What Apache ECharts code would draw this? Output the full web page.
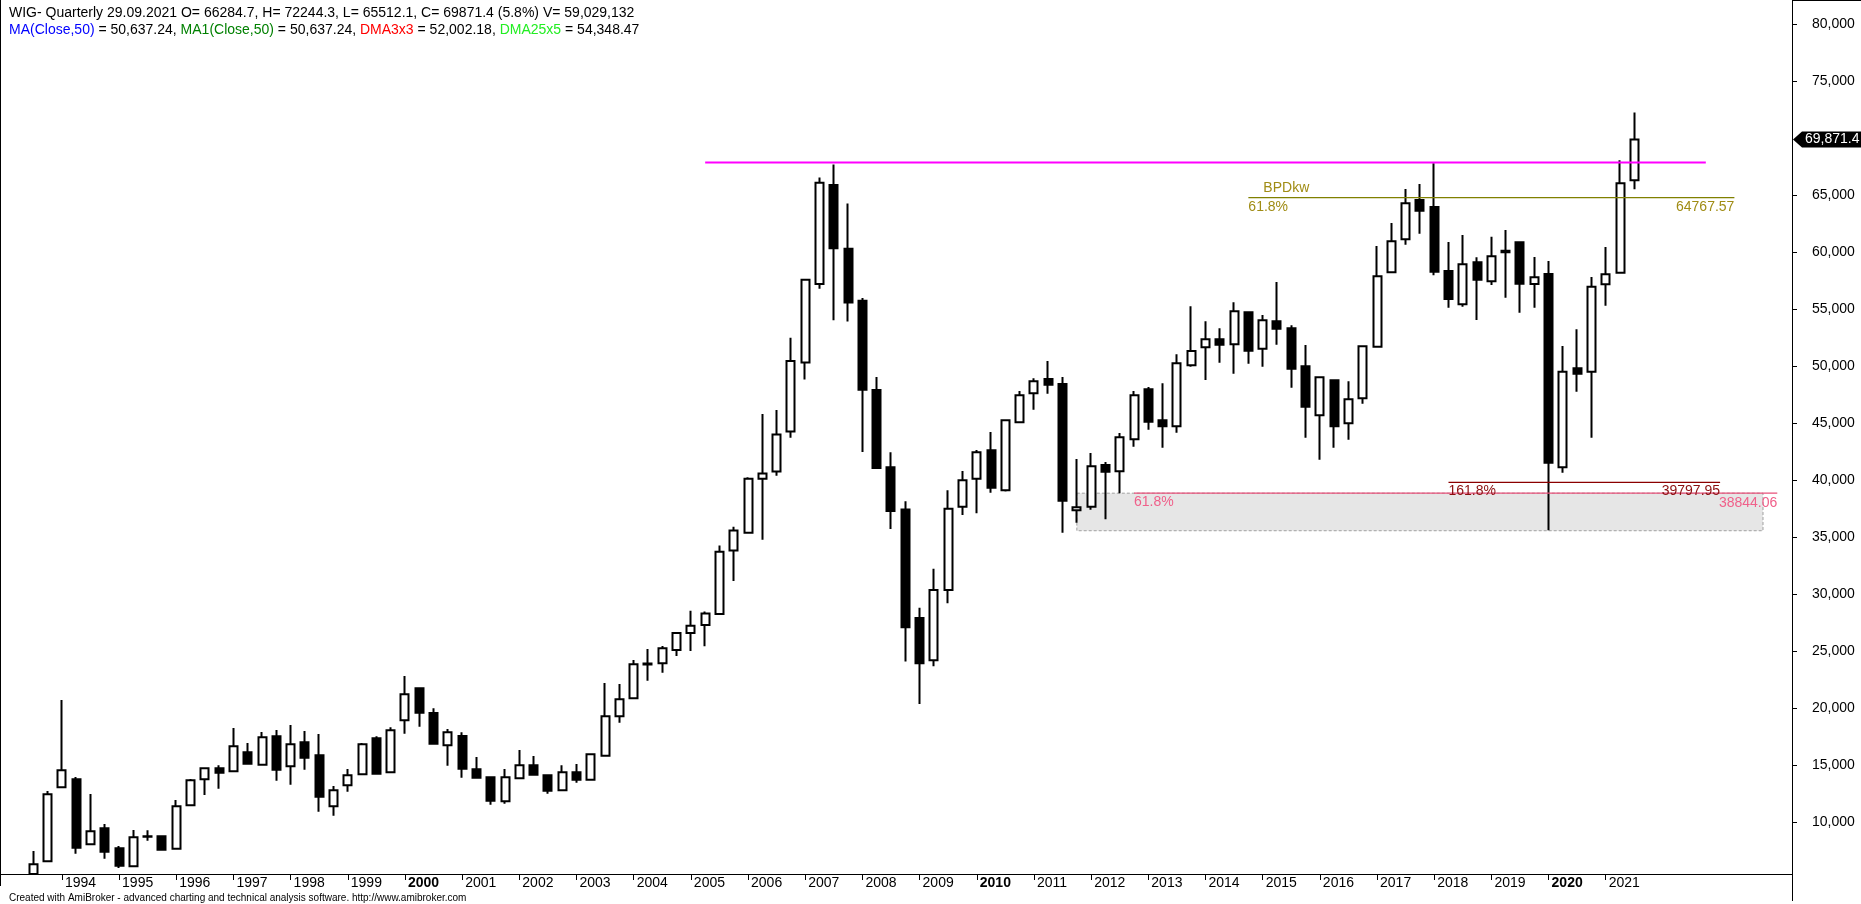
<!DOCTYPE html>
<html>
<head>
<meta charset="utf-8">
<script src="https://cdn.jsdelivr.net/npm/echarts@6/dist/echarts.min.js"></script>
<style>
html,body{margin:0;padding:0;background:#fff;}
#c{width:1861px;height:904px;}
</style>
</head>
<body>
<div id="c"></div>
<script>
// ---------- DATA ----------
// quarterly bars, first bar = 1993Q3, last bar = 2021Q3
const firstBar = '1993Q3';
const open = [5440,6552,13043,13745,8043,9447,7692,6114,8700,8745,
  7657,11464,13745,14710,14447,16113,15026,17517,14886,16991,
  15850,11377,13219,14184,17342,14359,18921,21727,19561,16728,
  17543,14622,13920,11815,13833,14973,14096,12780,14359,13710,
  15815,19271,20850,23900,23921,25091,26587,27270,28246,33809,
  35370,40120,40738,44251,50302,57198,65883,60288,55734,47894,
  41128,37420,27888,24180,30361,37660,40116,42602,39093,45058,
  47602,48859,48421,37339,37660,41315,40760,43567,47953,45233,
  44707,50058,51637,52339,51900,54708,51520,53918,53304,49971,
  45672,48743,44971,47164,51696,58216,61111,64561,63947,58333,
  55409,59093,57426,59970,60848,57193,58070,41111,49795,49502,
  57163,58187,66284.7];
const high = [7456,12719,20701,13947,12456,9824,7894,9298,9270,8760,
  11929,13772,14750,14973,18245,16929,17894,18070,18508,17982,
  17719,13157,14649,16929,17517,18306,22807,21800,19973,18157,
  17868,15701,13950,14649,16315,15789,14150,14973,15087,15950,
  22193,22105,24210,25175,25440,26650,28539,28474,34264,35891,
  40250,45780,46138,52481,57653,66534,67673,64257,55962,49033,
  42429,38135,28799,32215,39111,40789,42631,44210,45300,47806,
  48918,50438,49035,41842,42368,41578,44122,47806,48157,48479,
  51023,55233,53918,53304,55584,54795,54474,57368,53567,51842,
  49050,48800,48655,51813,60526,62544,65526,65965,67778,60877,
  61491,59532,61345,61929,60906,59561,59210,51754,53216,57807,
  60438,68041,72244.3];
const low = [5440,6500,13000,7218,8000,6780,5964,6100,8356,7483,
  7600,11400,12368,12921,14400,15050,14940,13622,13271,14587,
  10903,10552,12658,14100,14200,14271,17745,18359,16780,14938,
  13885,13850,11517,11605,13800,14100,12482,12692,13447,13700,
  15800,18710,20800,22394,23096,24570,24993,25416,28148,31141,
  35300,34752,40380,43698,48805,56775,54010,53912,42462,41000,
  35696,24082,20341,23660,29190,36929,37075,38888,39000,45000,
  46169,47573,35379,36257,37397,36549,38830,42923,44415,42836,
  44151,49941,48771,50292,49327,50205,49941,51871,48099,43713,
  41783,42836,43538,46696,51650,58200,60643,61608,57953,55116,
  55204,54035,57105,55994,54678,55116,35600,40643,47748,43713,
  55292,58100,65512.1];
const close = [6289,12429,14534,7745,9184,7394,6166,8657,8760,7570,
  11377,13657,14710,14325,16640,15114,17429,14587,16815,15640,
  12219,12780,14096,16815,14236,18043,21201,19587,16868,17868,
  14675,13885,11868,13920,14973,14149,12745,14359,13710,15938,
  19271,20763,23833,23820,25236,26587,27205,28279,33711,35566,
  40120,40575,43991,50432,57556,66079,60321,55571,47927,41063,
  37290,27075,23920,30361,37485,39970,42426,39327,45233,47426,
  48654,48362,38187,37602,41198,40730,43742,47426,45116,44707,
  50233,51315,52339,51871,54795,51345,54006,53275,49766,46433,
  49006,44707,47076,51725,57865,60936,64269,63626,58275,55877,
  58918,57573,59619,60117,57222,57777,41520,49502,49327,56959,
  58041,66023,69871.4];

// axis slots (quarters) and tick labels
const firstSlot = [1993, 2];   // one empty slot before the first bar
const slotCount = 124;         // empty slots after the last bar for drawings
const yearTicks = [1994,1995,1996,1997,1998,1999,2000,2001,2002,2003,2004,2005,2006,2007,
  2008,2009,2010,2011,2012,2013,2014,2015,2016,2017,2018,2019,2020,2021];
const boldYears = [2000, 2010, 2020];
const yTickValues = [10000,15000,20000,25000,30000,35000,40000,45000,50000,55000,60000,65000,75000,80000];
const yMin = 5438.6, yMax = 82105.3;

// drawings
const resistLevel = 67850, resistFrom = '2005Q2', resistTo = '2022Q4';
const bpdLevel = 64767.57, bpdFrom = '2014Q4', bpdTo = '2023Q2';
const ext1618Level = 39797.95, ext1618From = '2018Q2', ext1618To = '2023Q1';
const fib618Level = 38844.06, fib618From = '2012Q4', fib618To = '2024Q1';
const zoneTop = 38844.06, zoneBottom = 35550, zoneFrom = '2011Q4', zoneTo = '2023Q4';

// header
const ticker = 'WIG- Quarterly', lastDate = '29.09.2021', pctChange = '5.8%', volume = '59,029,132';
const ma50 = '50,637.24', ma1 = '50,637.24', dma3 = '52,002.18', dma25 = '54,348.47';

// ---------- BUILD ----------
const categories = [];
{
  let y = firstSlot[0], q = firstSlot[1];
  for (let k = 0; k < slotCount; k++) {
    categories.push(y + 'Q' + q);
    q++; if (q > 4) { q = 1; y++; }
  }
}
const startIdx = categories.indexOf(firstBar);
const candleData = categories.map((c, k) => {
  const i = k - startIdx;
  if (i < 0 || i >= open.length) return '-';
  return [open[i], close[i], low[i], high[i]];
});

const FONT = "'Liberation Sans', Arial, Helvetica, sans-serif";
const isYearTick = (idx) => {
  const c = categories[idx];
  return c.endsWith('Q1') && yearTicks.includes(+c.slice(0, 4));
};
const fmtNum = (v) => Math.round(v).toLocaleString('en-US');

const W = 1861, H = 904;
const gridLeft = 11.855, band = 14.295;
const gridRightPx = gridLeft + band * slotCount;
const axisX = 1792;

const option = {
  animation: false,
  backgroundColor: '#ffffff',
  title: [
    {
      left: 4, top: 1,
      text: ticker + ' ' + lastDate + ' O= ' + open[open.length-1] + ', H= ' + high[high.length-1] +
            ', L= ' + low[low.length-1] + ', C= ' + close[close.length-1] + ' (' + pctChange + ') V= ' + volume,
      textStyle: {fontFamily: FONT, fontSize: 14, fontWeight: 'normal', color: '#000'}
    },
    {
      left: 4, top: 18,
      text: '{b|MA(Close,50)} = ' + ma50 + ', {g|MA1(Close,50)} = ' + ma1 + ', {r|DMA3x3} = ' + dma3 + ', {l|DMA25x5} = ' + dma25,
      textStyle: {
        fontFamily: FONT, fontSize: 14, fontWeight: 'normal', color: '#000',
        rich: {
          b: {color: '#0000ff', fontFamily: FONT, fontSize: 14},
          g: {color: '#008000', fontFamily: FONT, fontSize: 14},
          r: {color: '#ff0000', fontFamily: FONT, fontSize: 14},
          l: {color: '#22ee22', fontFamily: FONT, fontSize: 14}
        }
      }
    },
    {
      left: 4, top: 888,
      text: 'Created with AmiBroker - advanced charting and technical analysis software. http://www.amibroker.com',
      textStyle: {fontFamily: FONT, fontSize: 10, fontWeight: 'normal', color: '#000'}
    }
  ],
  grid: {left: gridLeft, top: 0, width: band * slotCount, bottom: 30, containLabel: false},
  xAxis: {
    type: 'category',
    data: categories,
    boundaryGap: true,
    axisLine: {show: false},
    axisTick: {show: true, alignWithLabel: true, interval: (idx) => isYearTick(idx), length: 6,
               lineStyle: {color: '#000', width: 1}},
    axisLabel: {
      interval: (idx) => isYearTick(idx),
      formatter: (v) => {
        const y = v.slice(0, 4);
        return boldYears.includes(+y) ? '{bold|' + y + '}' : y;
      },
      align: 'left', margin: 2, padding: [0, 0, 0, 3],
      fontFamily: FONT, fontSize: 14, color: '#000',
      rich: {bold: {fontFamily: FONT, fontSize: 14, fontWeight: 'bold', color: '#000'}}
    },
    splitLine: {show: false}
  },
  yAxis: {
    type: 'value',
    position: 'right',
    offset: axisX - gridRightPx,
    min: yMin, max: yMax,
    splitLine: {show: false},
    axisLine: {show: true, lineStyle: {color: '#000', width: 1}},
    axisTick: {show: true, length: 5, customValues: yTickValues, lineStyle: {color: '#000'}},
    axisLabel: {customValues: yTickValues, formatter: fmtNum, margin: 20,
                fontFamily: FONT, fontSize: 14, color: '#000'}
  },
  series: [{
    type: 'candlestick',
    data: candleData,
    barWidth: 8.5,
    clip: true,
    z: 2,
    itemStyle: {color: '#ffffff', color0: '#000000', borderColor: '#000000', borderColor0: '#000000', borderWidth: 2}
  }]
};

const chart = echarts.init(document.getElementById('c'), null, {renderer: 'canvas', width: W, height: H});
chart.setOption(option);

const P = (c, v) => chart.convertToPixel({gridIndex: 0}, [c, v]);
const g = [];
const txt = (x, y, text, color, align, vAlign, z) => ({
  type: 'text', z: z || 20,
  style: {x: x, y: y, text: text, fill: color, font: '14px ' + FONT,
          textAlign: align, align: align, textVerticalAlign: vAlign, verticalAlign: vAlign}
});
const hline = (from, to, v, color, width, z) => {
  const a = P(from, v), b = P(to, v);
  return {type: 'line', z: z || 15, shape: {x1: a[0], y1: a[1], x2: b[0], y2: b[1]},
          style: {stroke: color, lineWidth: width}};
};

// shaded zone (behind candles)
{
  const a = P(zoneFrom, zoneTop), b = P(zoneTo, zoneBottom);
  g.push({type: 'rect', z: 1, shape: {x: a[0], y: a[1], width: b[0] - a[0], height: b[1] - a[1]},
          style: {fill: '#e6e6e6', stroke: '#a0a0a0', lineWidth: 1, lineDash: [3, 2]}});
}
// resistance (magenta)
g.push(hline(resistFrom, resistTo, resistLevel, '#ff00ff', 2));
// BPDkw 61.8%
{
  g.push(hline(bpdFrom, bpdTo, bpdLevel, '#808000', 1.2));
  const a = P(bpdFrom, bpdLevel), b = P(bpdTo, bpdLevel);
  g.push(txt(a[0] + 15, a[1] - 3, 'BPDkw', '#a08c14', 'left', 'bottom'));
  g.push(txt(a[0], a[1] + 2, '61.8%', '#a08c14', 'left', 'top'));
  g.push(txt(b[0], b[1] + 2, String(bpdLevel), '#a08c14', 'right', 'top'));
}
// 161.8% extension
{
  g.push(hline(ext1618From, ext1618To, ext1618Level, '#8b0000', 1.2));
  const a = P(ext1618From, ext1618Level), b = P(ext1618To, ext1618Level);
  g.push(txt(a[0], a[1] + 2, '161.8%', '#8b1010', 'left', 'top'));
  g.push(txt(b[0], b[1] + 2, String(ext1618Level), '#8b1010', 'right', 'top'));
}
// 61.8% retracement (pink)
{
  g.push(hline(fib618From, fib618To, fib618Level, '#e8507a', 1.2));
  const a = P(fib618From, fib618Level), b = P(fib618To, fib618Level);
  g.push(txt(a[0], a[1] + 2, '61.8%', '#f0608a', 'left', 'top'));
  g.push(txt(b[0], b[1] + 3, String(fib618Level), '#f0608a', 'right', 'top'));
}
// frame lines
{
  const yb = P(categories[0], yMin)[1];
  g.push({type: 'line', z: 30, shape: {x1: 0, y1: yb + 0.5, x2: axisX, y2: yb + 0.5}, style: {stroke: '#000', lineWidth: 1}});
  g.push({type: 'line', z: 30, shape: {x1: 0.5, y1: 0, x2: 0.5, y2: yb + 12}, style: {stroke: '#000', lineWidth: 1}});
  g.push({type: 'line', z: 30, shape: {x1: axisX + 0.5, y1: yb, x2: axisX + 0.5, y2: H - 3}, style: {stroke: '#000', lineWidth: 1}});
  g.push({type: 'line', z: 30, shape: {x1: axisX, y1: 0.5, x2: W, y2: 0.5}, style: {stroke: '#000', lineWidth: 1}});
}
// last price tag on the axis
{
  const last = close[close.length - 1];
  const y = P(categories[0], last)[1];
  const x0 = axisX + 1;
  g.push({type: 'polygon', z: 40,
          shape: {points: [[x0, y], [x0 + 9, y - 8], [W, y - 8], [W, y + 8], [x0 + 9, y + 8]]},
          style: {fill: '#000'}});
  g.push({type: 'text', z: 41,
          style: {x: x0 + 12, y: y, text: last.toLocaleString('en-US', {minimumFractionDigits: 1}),
                  fill: '#fff', font: '14px ' + FONT, textAlign: 'left', align: 'left',
                  textVerticalAlign: 'middle', verticalAlign: 'middle'}});
}
chart.setOption({graphic: {elements: g}});
</script>
</body>
</html>
